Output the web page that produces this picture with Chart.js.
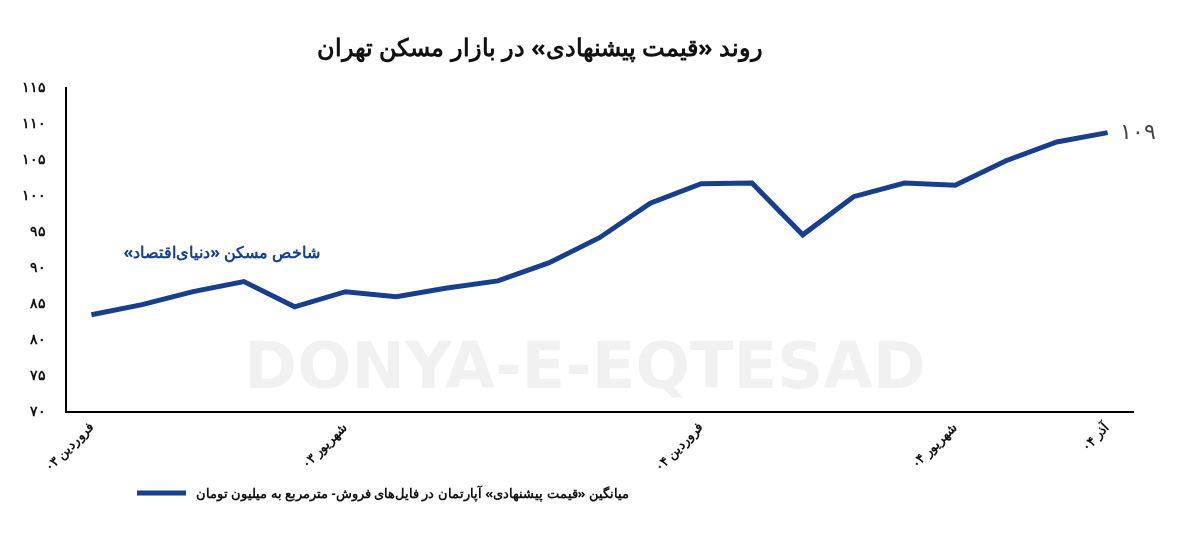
<!DOCTYPE html>
<html><head><meta charset="utf-8">
<script src="https://cdn.jsdelivr.net/npm/chart.js@4"></script>
<style>body{margin:0;background:#fff}#wrap{width:1200px;height:543px}</style>
</head><body><div id="wrap"><canvas id="c"></canvas></div>
<script>
// months from Farvardin 03 to Azar 04
const labels = ['فروردین ۰۳','','','','','شهریور ۰۳','','','','','','','فروردین ۰۴','','','','','شهریور ۰۴','','','آذر ۰۴'];
const prices = [83.5,84.9,86.7,88.1,84.6,86.7,86.0,87.2,88.2,90.7,94.2,99.0,101.7,101.8,94.6,99.9,101.8,101.5,104.9,107.5,108.8];
const yTicks = [70,75,80,85,90,95,100,105,110,115];
const seriesName = 'میانگین «قیمت پیشنهادی» آپارتمان در فایل‌های فروش- مترمربع به میلیون تومان';
const chartTitle = 'روند «قیمت پیشنهادی» در بازار مسکن تهران';
const noteText = 'شاخص مسکن «دنیای‌اقتصاد»';
const lastLabel = '۱۰۹';

const fa = n => String(n).replace(/\d/g, d => '۰۱۲۳۴۵۶۷۸۹'[d]);
const blue = '#173f8c';

const extras = {
  id: 'extras',
  beforeDatasetsDraw(chart) {
    const {ctx} = chart;
    ctx.save();
    ctx.font = 'bold 64px "DejaVu Sans"';
    ctx.fillStyle = 'rgba(0,0,0,0.055)';
    ctx.textAlign = 'center';
    ctx.fillText('DONYA-E-EQTESAD', 585, 388);
    ctx.restore();
  },
  afterDraw(chart) {
    const {ctx} = chart;
    const x = chart.scales.x, y = chart.scales.y;
    ctx.save();
    // title, placed like the reference
    ctx.direction = 'rtl';
    ctx.fillStyle = '#111';
    ctx.font = 'bold 24px "Noto Sans"';
    ctx.textAlign = 'center';
    ctx.fillText(chartTitle, 540, 56);
    ctx.fillStyle = blue;
    ctx.font = 'bold 16px "Noto Sans"';
    ctx.fillText(noteText, 222, y.getPixelForValue(91.4));
    ctx.fillStyle = '#444';
    ctx.font = '22px "Noto Sans"';
    ctx.direction = 'ltr';
    ctx.textAlign = 'left';
    ctx.textBaseline = 'middle';
    const n = prices.length - 1;
    ctx.fillText(lastLabel, x.getPixelForValue(n) + 12, y.getPixelForValue(prices[n]));
    // legend
    ctx.strokeStyle = blue; ctx.lineWidth = 5;
    ctx.beginPath(); ctx.moveTo(137, 493); ctx.lineTo(186, 493); ctx.stroke();
    ctx.fillStyle = '#111';
    ctx.font = 'bold 13px "Noto Sans"';
    ctx.direction = 'rtl';
    ctx.textAlign = 'left';
    ctx.fillText(seriesName, 196, 494);
    ctx.restore();
  }
};

new Chart(document.getElementById('c'), {
  type: 'line',
  data: { labels, datasets: [{ label: seriesName, data: prices, borderColor: blue, backgroundColor: blue,
    borderWidth: 5, pointRadius: 0, tension: 0 }] },
  options: {
    responsive: true, maintainAspectRatio: false, animation: false,
    layout: { padding: { left: 10, right: 67, top: 88, bottom: 60 } },
    plugins: {
      title: { display: false },
      legend: { display: false },
      tooltip: { enabled: false }
    },
    scales: {
      x: { grid: { display: false, drawTicks: false }, border: { color: '#000', width: 2 }, offset: true,
        ticks: { autoSkip: false, maxRotation: 45, minRotation: 45, color: '#111', padding: 8,
          font: { family: 'Noto Sans', size: 13, weight: 'bold' } } },
      y: { min: 70, max: 115, grid: { display: false }, border: { color: '#000', width: 2 },
        afterBuildTicks: s => { s.ticks = yTicks.map(v => ({ value: v })); },
        ticks: { color: '#111', padding: 12, callback: v => fa(v), font: { family: 'Noto Sans', size: 14, weight: 'bold' } } }
    }
  },
  plugins: [extras]
});
</script></body></html>
